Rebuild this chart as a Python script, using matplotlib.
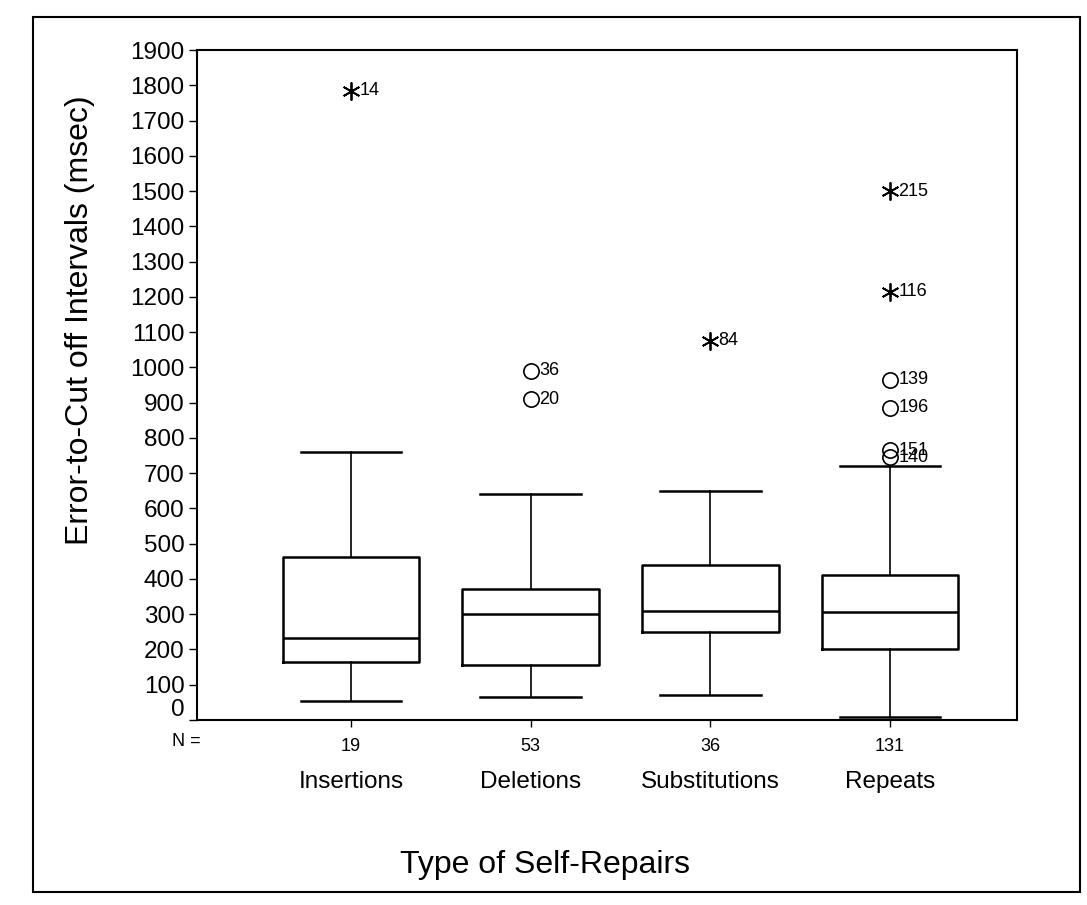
import matplotlib
matplotlib.use("Agg")
import matplotlib.pyplot as plt
import matplotlib.transforms as mtransforms
from matplotlib.patches import Rectangle

plt.rcParams['font.family'] = ['Liberation Sans', 'DejaVu Sans']

categories = ["Insertions", "Deletions", "Substitutions", "Repeats"]
n_counts = [19, 53, 36, 131]
whisker_low = [54, 65, 72, 8]
q1 = [165, 155, 250, 200]
median = [232, 300, 310, 305]
q3 = [462, 372, 440, 412]
whisker_high = [760, 640, 650, 720]

# outliers: category index, value, case id, kind ('o' = outlier, '*' = extreme)
outlier_cat = [0, 1, 1, 2, 3, 3, 3, 3, 3, 3]
outlier_val = [1785, 990, 910, 1075, 1500, 1215, 965, 885, 765, 745]
outlier_id = ["14", "36", "20", "84", "215", "116", "139", "196", "151", "140"]
outlier_kind = ["*", "o", "o", "*", "*", "*", "o", "o", "o", "o"]

yticks = list(range(0, 2000, 100))

W, H = 1087, 905
fig = plt.figure(figsize=(W/100, H/100), dpi=100)
ax = fig.add_axes([197/W, 1-720/H, (1017-197)/W, (720-50)/H])

stats = []
for i, c in enumerate(categories):
    stats.append(dict(label=c, whislo=whisker_low[i], q1=q1[i], med=median[i],
                      q3=q3[i], whishi=whisker_high[i], fliers=[]))
pos = list(range(1, len(categories) + 1))
ax.bxp(stats, positions=pos, widths=0.76, showfliers=False,
       boxprops=dict(color='black', linewidth=1.8),
       medianprops=dict(color='black', linewidth=1.8),
       whiskerprops=dict(color='black', linewidth=1.2),
       capprops=dict(color='black', linewidth=1.8),
       capwidths=0.56)

for c, v, lab, k in zip(outlier_cat, outlier_val, outlier_id, outlier_kind):
    x = pos[c]
    if k == "o":
        ax.plot(x, v, marker='o', ms=11, mfc='none', mec='black', mew=1.2, clip_on=False)
    else:
        ax.plot(x, v, marker=(6, 2, 0), ms=13, color='black', mew=1.3, clip_on=False)
    ax.annotate(lab, (x, v), xytext=(6, 0), textcoords='offset points',
                va='center', ha='left', fontsize=13)

ax.set_xlim(0.143, 4.707)
ax.set_ylim(0, 1900)
ax.set_yticks(yticks)
ax.set_yticklabels([str(t) for t in yticks], fontsize=17.5)
ax.set_xticks(pos)
ax.set_xticklabels([str(n) for n in n_counts], fontsize=13)
ax.tick_params(axis='y', direction='out', length=6, width=1, pad=3)
ax.tick_params(axis='x', direction='out', length=5, width=1, pad=8)
for s in ax.spines.values():
    s.set_linewidth(1.5)

# the "0" label sits slightly above its tick in the original
zero_lab = ax.get_yticklabels()[0]
zero_lab.set_transform(zero_lab.get_transform() +
                       mtransforms.ScaledTranslation(0, 12/100, fig.dpi_scale_trans))

fig.text(80/W, 1-320/H, "Error-to-Cut off Intervals (msec)", fontsize=23,
         rotation=90, ha='center', va='center')

fig.text(186/W, 1-742/H, "N =", fontsize=13, ha='center', va='center')
for p, c in zip(pos, categories):
    xd = ax.transData.transform((p, 0))[0]
    xf = fig.transFigure.inverted().transform((xd, 0))[0]
    fig.text(xf, 1-782/H, c, fontsize=17.5, ha='center', va='center')
fig.text(545/W, 1-865/H, "Type of Self-Repairs", fontsize=23, ha='center', va='center')

fig.patches.append(Rectangle((33/W, 1-892/H), (1080-33)/W, (892-17)/H,
                             transform=fig.transFigure, fill=False,
                             edgecolor='black', linewidth=1.5))

fig.savefig("out.png", dpi=100)
